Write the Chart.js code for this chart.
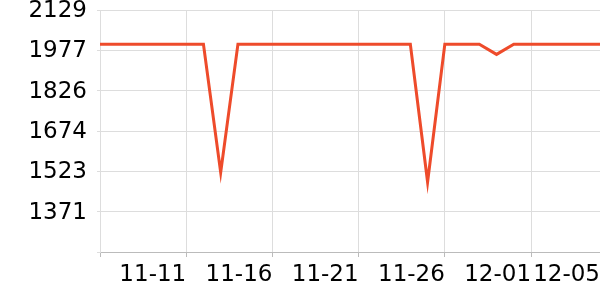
<!DOCTYPE html>
<html>
<head>
<meta charset="utf-8">
<script src="https://cdn.jsdelivr.net/npm/chart.js@4/dist/chart.umd.min.js"></script>
<style>
  html, body { margin: 0; padding: 0; background: #fff; }
  #wrap { width: 600px; height: 300px; }
</style>
</head>
<body>
<div id="wrap"><canvas id="chart"></canvas></div>
<script>
// --- Data ---
const dates = ['11-06', '11-07', '11-08', '11-09', '11-10', '11-11', '11-12', '11-13', '11-14', '11-15',
               '11-16', '11-17', '11-18', '11-19', '11-20', '11-21', '11-22', '11-23', '11-24', '11-25',
               '11-26', '11-27', '11-28', '11-29', '11-30', '12-01', '12-02', '12-03', '12-04', '12-05'];
const values = [2000, 2000, 2000, 2000, 2000, 2000, 2000, 1518, 2000, 2000,
                2000, 2000, 2000, 2000, 2000, 2000, 2000, 2000, 2000, 1482,
                2000, 2000, 2000, 1962, 2000, 2000, 2000, 2000, 2000, 2000];
const shownDates = ['11-11', '11-16', '11-21', '11-26', '12-01', '12-05'];
const yTicks = [1371, 1523, 1674, 1826, 1977, 2129];
const yMin = 1219;
const yMax = 2129;

const font = { family: 'DejaVu Sans', size: 23 };

new Chart(document.getElementById('chart'), {
    type: 'line',
    data: {
        labels: dates,
        datasets: [{
            data: values,
            borderColor: '#ee4b2b',
            borderWidth: 3,
            pointRadius: 0,
            tension: 0,
            fill: false
        }]
    },
    options: {
        responsive: true,
        maintainAspectRatio: false,
        animation: false,
        layout: { padding: { top: 10, right: 0, left: 0, bottom: 0 } },
        plugins: { legend: { display: false }, tooltip: { enabled: false } },
        scales: {
            x: {
                grid: { color: '#dddddd', tickLength: 5, tickColor: '#bbbbbb' },
                border: { color: '#bbbbbb', width: 1 },
                ticks: {
                    autoSkip: false,
                    maxRotation: 0,
                    align: 'end',
                    color: '#000',
                    font: font,
                    padding: 4,
                    callback: function (v, i) {
                        if (i === 0) return '';
                        return shownDates.includes(dates[i]) ? dates[i] : null;
                    }
                },
                afterFit: function (axis) {
                    axis.height = 48;
                    axis.paddingLeft = 0;
                    axis.paddingRight = 0;
                }
            },
            y: {
                min: yMin,
                max: yMax,
                grid: { color: '#dddddd', tickLength: 3 },
                border: { color: '#dddddd' },
                ticks: {
                    color: '#000',
                    font: font,
                    padding: 10,
                    labelOffset: 1,
                    callback: v => (yTicks.includes(v) ? String(v) : '')
                },
                afterBuildTicks: function (axis) {
                    axis.ticks = [yMin].concat(yTicks).map(v => ({ value: v }));
                },
                afterFit: function (axis) {
                    axis.width = 100;
                    axis.paddingTop = 0;
                    axis.paddingBottom = 0;
                }
            }
        }
    }
});
</script>
</body>
</html>
